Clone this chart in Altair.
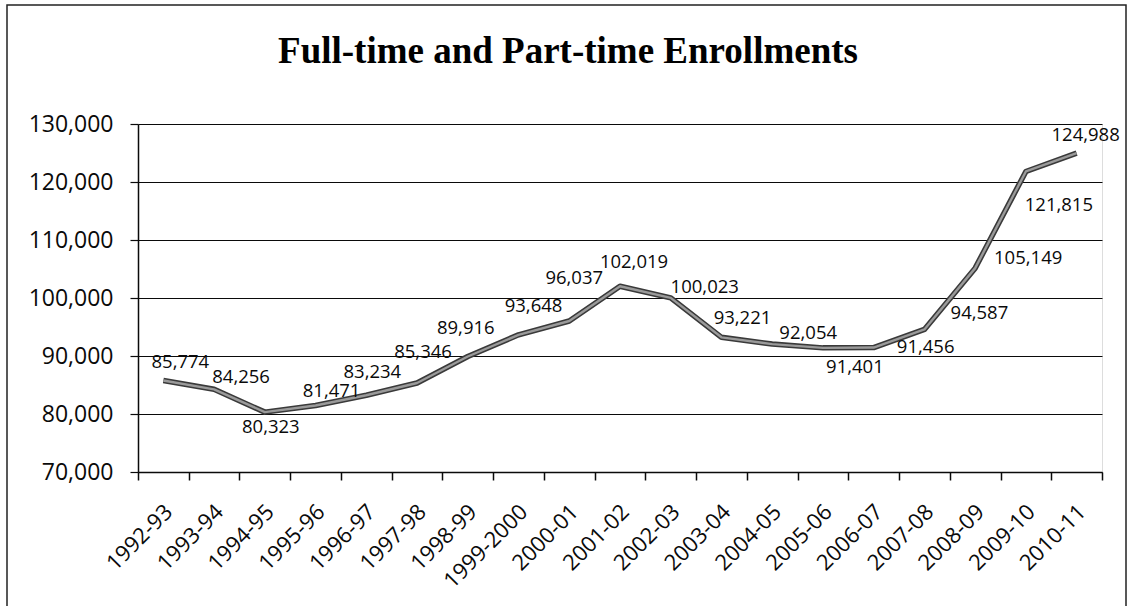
import altair as alt
import pandas as pd

# Academic years on the category axis
years = [
    "1992-93", "1993-94", "1994-95", "1995-96", "1996-97", "1997-98",
    "1998-99", "1999-2000", "2000-01", "2001-02", "2002-03", "2003-04",
    "2004-05", "2005-06", "2006-07", "2007-08", "2008-09", "2009-10",
    "2010-11",
]

# Total full-time plus part-time enrollment per year
enrollment = [
    85774, 84256, 80323, 81471, 83234, 85346, 89916, 93648, 96037,
    102019, 100023, 93221, 92054, 91401, 91456, 94587, 105149, 121815,
    124988,
]

# Pixel nudges for each value label, so labels sit clear of the line
label_dx = [17, 27, 6, 16, 6, 6, -2, 15, 5, 14, 34, 21, 36, 32, 52, 55, 53, 33, 9]
label_dy = [-19, -12, 15, -14, -23, -31, -28, -29, -43, -24, -11, -19, -11, 19, -1, -16, -10, 34, -18]

y_ticks = [70000, 80000, 90000, 100000, 110000, 120000, 130000]

W, H = 964, 348
Y_MIN, Y_MAX = 70000, 130000
N = len(years)

df = pd.DataFrame({
    "year": years,
    "enrollment": enrollment,
    "slot": list(range(N)),
    "dx": label_dx,
    "dy": label_dy,
})

LABEL_FONT = "Open Sans"
INK = "#0a0a0a"

# Category i sits in the middle of its slot [i, i+1]
year_array = "[" + ",".join("'" + y + "'" for y in years) + "]"
x_scale = alt.Scale(domain=[0, N], nice=False, zero=False)
y_scale = alt.Scale(domain=[Y_MIN, Y_MAX], nice=False, zero=False)

x_label_axis = alt.Axis(
    title=None,
    orient="bottom",
    values=[i + 0.5 for i in range(N)],
    labelExpr=year_array + "[floor(datum.value)]",
    labelAngle=-45,
    labelAlign="right",
    labelBaseline="middle",
    labelFont=LABEL_FONT,
    labelFontSize=22,
    labelColor=INK,
    labelPadding=36,
    labelOffset=5,
    labelOverlap=False,
    labelFlush=False,
    labelBound=False,
    ticks=False,
    domainColor=INK,
    domainWidth=1.5,
    grid=False,
)

x_tick_axis = alt.Axis(
    title=None,
    orient="bottom",
    values=list(range(N + 1)),
    labels=False,
    tickSize=8,
    tickColor=INK,
    tickWidth=1.5,
    domain=False,
    grid=False,
)

y_axis = alt.Axis(
    title=None,
    values=y_ticks,
    format=",.0f",
    labelFont=LABEL_FONT,
    labelFontSize=23,
    labelColor=INK,
    labelPadding=17,
    tickSize=8,
    tickColor=INK,
    tickWidth=1.2,
    domainColor=INK,
    domainWidth=1.5,
    grid=True,
    gridColor=INK,
    gridWidth=1.2,
)

base = alt.Chart(df).transform_calculate(
    pos="datum.slot + 0.5",
    label_x=f"datum.slot + 0.5 + datum.dx * {N} / {W}",
    label_y=f"datum.enrollment - datum.dy * {Y_MAX - Y_MIN} / {H}",
)

# Dark outer stroke with a lighter core gives the grey ribbon-like line
line_outer = base.mark_line(color="#3a3a3a", strokeWidth=5.5, strokeJoin="round").encode(
    x=alt.X("pos:Q", scale=x_scale, axis=x_label_axis),
    y=alt.Y("enrollment:Q", scale=y_scale, axis=y_axis),
)
line_inner = base.mark_line(color="#9a9a9a", strokeWidth=2.4, strokeJoin="round").encode(
    x=alt.X("pos:Q", scale=x_scale, axis=x_tick_axis),
    y=alt.Y("enrollment:Q", scale=y_scale, axis=None),
)

labels = base.mark_text(
    font=LABEL_FONT,
    fontSize=18.5,
    color=INK,
    align="center",
    baseline="middle",
).encode(
    x=alt.X("label_x:Q", scale=x_scale, axis=None),
    y=alt.Y("label_y:Q", scale=y_scale, axis=None),
    text=alt.Text("enrollment:Q", format=",.0f"),
)

# Thin frame drawn around the whole figure
frame = alt.Chart(pd.DataFrame({"k": [0]})).mark_rect(
    fillOpacity=0, stroke="#222222", strokeWidth=1.5
).encode(
    x=alt.value(-131), x2=alt.value(988), y=alt.value(-119), y2=alt.value(500)
)

chart = alt.layer(line_outer, line_inner, labels, frame).resolve_axis(
    x="independent", y="independent"
).properties(
    width=W,
    height=H,
    autosize=alt.AutoSizeParams(type="none"),
    padding={"left": 138, "top": 124, "right": 26, "bottom": 134},
    title=alt.Title(
        "Full-time and Part-time Enrollments",
        font="Liberation Serif",
        fontSize=37,
        fontWeight="bold",
        color="#000000",
        anchor="middle",
        frame="group",
        dx=-52,
        offset=-67,
    ),
).configure_view(stroke=None).configure(background="white")

chart.save("out.html", embed_options={"renderer": "svg", "actions": False})
